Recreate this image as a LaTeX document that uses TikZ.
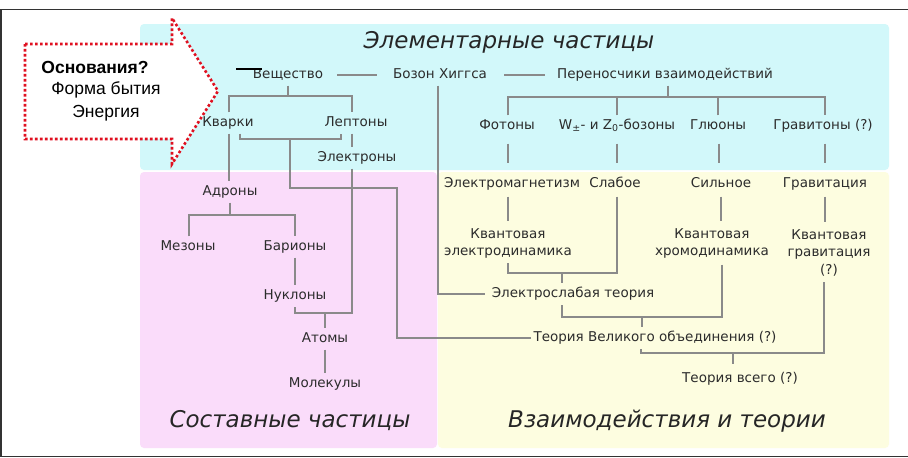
\documentclass[tikz,border=0pt]{standalone}
\usepackage{fontspec}
\newfontfamily\djv{DejaVu Sans}
\newfontfamily\arl{Liberation Sans}
\definecolor{cyanbg}{HTML}{D2F8FA}
\definecolor{pinkbg}{HTML}{FADCFA}
\definecolor{yelbg}{HTML}{FDFDE0}
\definecolor{txtg}{HTML}{2C2C2C}
\definecolor{lng}{HTML}{8A8A8A}
\definecolor{redd}{HTML}{E01020}
\begin{document}
\begin{tikzpicture}[x=1pt,y=-1pt,
  lbl/.style={font=\djv\fontsize{13.5}{17}\selectfont, text=txtg, inner xsep=2pt, inner ysep=4pt, text height=10pt, text depth=3pt, align=center},
  mlbl/.style={font=\djv\fontsize{13.5}{17.5}\selectfont, text=txtg, inner xsep=2pt, inner ysep=4pt, align=center, anchor=north},
  ttl/.style={font=\djv\itshape\fontsize{23}{26}\selectfont, text=black!85},
  conn/.style={draw=lng, line width=1.2pt},
  region/.style={rounded corners=4pt, draw=none},
  atxt/.style={font=\arl\fontsize{17.5}{20}\selectfont, text=black}
]
\useasboundingbox (0,0) rectangle (908,458);
\fill[white] (0,0) rectangle (908,458);
% frame
\draw[black!80, line width=1.5pt] (0,9.5) -- (908,9.5);
\draw[black!80, line width=1.5pt] (1,9.5) -- (1,456.5) -- (908,456.5);
% regions
\fill[region, fill=cyanbg] (140,24) rectangle (889,170);
\fill[region, fill=pinkbg] (140,172) rectangle (437,448);
\fill[region, fill=yelbg] (438,172) rectangle (889,448);
% arrow
\draw[redd, fill=white, line width=2.6pt, dash pattern=on 2.6pt off 2.4pt]
  (25,44) -- (172,44) -- (172,18) -- (218,91) -- (172,164) -- (172,139) -- (25,139) -- cycle;
\node[atxt, font=\arl\bfseries\fontsize{17.5}{20}\selectfont] (osn) at (95,67) {Основания?};
\node[atxt] (forma) at (106,90) {Форма бытия};
\node[atxt] (energ) at (106,113) {Энергия};
% titles
\node[ttl] (t1) at (509,42) {Элементарные частицы};
\node[ttl] (t2) at (290,421) {Составные частицы};
\node[ttl] (t3) at (667,421) {Взаимодействия и теории};
% nodes
\node[lbl] (ves) at (288,75) {Вещество};
\node[lbl] (higgs) at (440,75) {Бозон Хиггса};
\node[lbl] (carr) at (665,75) {Переносчики взаимодействий};
\node[lbl] (kvark) at (228,123) {Кварки};
\node[lbl] (lept) at (356,123) {Лептоны};
\node[lbl] (elec) at (357,158) {Электроны};
\node[lbl] (adr) at (230,192) {Адроны};
\node[lbl] (mez) at (188,247) {Мезоны};
\node[lbl] (bar) at (295,247) {Барионы};
\node[lbl] (nukl) at (295,296) {Нуклоны};
\node[lbl] (atom) at (325,339) {Атомы};
\node[lbl] (mol) at (325,384) {Молекулы};
\node[lbl] (phot) at (507,126) {Фотоны};
\node[lbl] (wz) at (617,126) {W\textsubscript{±}- и Z\textsubscript{0}-бозоны};
\node[lbl] (glu) at (718,126) {Глюоны};
\node[lbl] (grav) at (823,126) {Гравитоны (?)};
\node[lbl] (em) at (512,184) {Электромагнетизм};
\node[lbl] (weak) at (615,184) {Слабое};
\node[lbl] (strong) at (721,184) {Сильное};
\node[lbl] (gravi) at (825,184) {Гравитация};
\node[mlbl] (qed) at (508,224) {Квантовая\\электродинамика};
\node[mlbl] (qcd) at (712,224) {Квантовая\\хромодинамика};
\node[mlbl] (qg) at (829,225) {Квантовая\\гравитация\\(?)};
\node[lbl] (ew) at (573,294) {Электрослабая теория};
\node[lbl] (gut) at (655,338) {Теория Великого объединения (?)};
\node[lbl] (toe) at (740,379) {Теория всего (?)};
% stray black stub
\draw[black, line width=1.4pt] (236,69) -- (262,69);
% connectors, top row
\draw[conn, shorten <=12pt, shorten >=14pt] (ves.east) -- (higgs.west);
\draw[conn, shorten <=15pt, shorten >=10pt] (higgs.east) -- (carr.west);
\draw[conn] (ves.south) -- (ves.south |- 0,96);
\draw[conn] (kvark.north -| 229,0) -- (229,96) -- (352,96) -- (lept.north -| 352,0);
\draw[conn] (kvark.south -| 229,0) -- (adr.north -| 229,0);
\draw[conn] (kvark.south -| 240,0) -- (240,139) -- (341,139) -- (lept.south -| 341,0);
\draw[conn] (290,139) -- (290,188) -- (397,188) |- (gut.west);
\draw[conn] (lept.south -| 352,0) -- (elec.north -| 352,0);
\draw[conn] (elec.south -| 352,0) -- (352,313) -- (295,313) -- (nukl.south -| 295,0);
\draw[conn] (325,313) -- (atom.north);
\draw[conn] (atom.south) -- (mol.north);
\draw[conn] (adr.south) -- (adr.south |- 0,215);
\draw[conn] (mez.north -| 189,0) -- (189,215) -- (295,215) -- (bar.north -| 295,0);
\draw[conn] (bar.south) -- (nukl.north);
% Higgs
\draw[conn, shorten >=5pt] (higgs.south -| 438,0) |- (ew.west);
% carriers
\draw[conn] (carr.south -| 668,0) -- (668,97);
\draw[conn] (phot.north -| 508,0) -- (508,97) -- (825,97) -- (grav.north -| 825,0);
\draw[conn] (wz.north -| 617,0) -- (617,97);
\draw[conn] (glu.north -| 718,0) -- (718,97);
\draw[conn, shorten <=7pt, shorten >=10pt] (phot.south -| 508,0) -- (em.north -| 508,0);
\draw[conn, shorten <=7pt, shorten >=10pt] (wz.south -| 617,0) -- (weak.north -| 617,0);
\draw[conn, shorten <=7pt, shorten >=10pt] (glu.south -| 719,0) -- (strong.north -| 719,0);
\draw[conn, shorten <=7pt, shorten >=10pt] (grav.south -| 825,0) -- (gravi.north -| 825,0);
% interactions
\draw[conn, shorten <=2pt, shorten >=3pt] (em.south -| 508,0) -- (qed.north -| 508,0);
\draw[conn, shorten <=2pt] (weak.south -| 617,0) -- (617,273) -- (508,273) -- (qed.south -| 508,0);
\draw[conn] (562,273) -- (ew.north -| 562,0);
\draw[conn, shorten <=2pt, shorten >=3pt] (strong.south -| 721,0) -- (qcd.north -| 721,0);
\draw[conn, shorten <=2pt] (qcd.south -| 722,0) -- (722,317) -- (562,317) -- (ew.south -| 562,0);
\draw[conn] (642,317) -- (gut.north -| 642,0);
\draw[conn, shorten <=2pt, shorten >=3pt] (gravi.south -| 825,0) -- (qg.north -| 825,0);
\draw[conn, shorten <=2pt] (qg.south -| 824,0) -- (824,353) -- (641,353) -- (gut.south -| 641,0);
\draw[conn, shorten >=4pt] (733,353) -- (toe.north -| 733,0);
\end{tikzpicture}
\end{document}
